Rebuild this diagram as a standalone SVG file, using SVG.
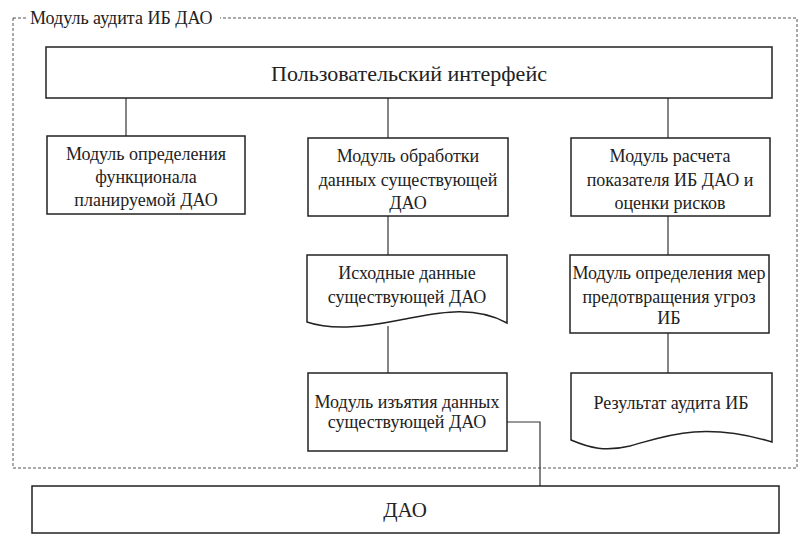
<svg xmlns="http://www.w3.org/2000/svg" width="804" height="545" viewBox="0 0 804 545">
<style>
.b{fill:#fff;stroke:#222;stroke-width:1.5}
.c{fill:none;stroke:#333;stroke-width:1.2}
</style>
<rect x="0" y="0" width="804" height="545" fill="#fff"/>
<g font-family="Liberation Serif, serif" font-size="18" fill="#222" text-anchor="middle">
<g id="frame">
<rect x="13" y="18" width="784" height="450" fill="none" stroke="#555" stroke-width="1" stroke-dasharray="3,2"/>
<rect x="26" y="6" width="194" height="24" fill="#fff"/>
<text x="30" y="24" text-anchor="start" font-size="18">Модуль аудита ИБ ДАО</text>
</g>
<g id="connectors">
<line class="c" x1="126" y1="98" x2="126" y2="136"/>
<line class="c" x1="388" y1="98" x2="388" y2="138"/>
<line class="c" x1="668" y1="98" x2="668" y2="138"/>
<line class="c" x1="388" y1="216" x2="388" y2="255"/>
<line class="c" x1="388" y1="326" x2="388" y2="373"/>
<line class="c" x1="668" y1="216" x2="668" y2="255"/>
<line class="c" x1="668" y1="333" x2="668" y2="373"/>
<polyline class="c" points="507,422 540,422 540,487"/>
</g>
<g id="ui">
<rect class="b" x="46" y="47" width="726" height="51"/>
<text x="409" y="81" font-size="22">Пользовательский интерфейс</text>
</g>
<g id="m1">
<rect class="b" x="47" y="136" width="198" height="78"/>
<text x="146" y="160">Модуль определения</text>
<text x="146" y="183">функционала</text>
<text x="146" y="206">планируемой  ДАО</text>
</g>
<g id="m2">
<rect class="b" x="308" y="138" width="200" height="78"/>
<text x="408" y="162">Модуль обработки</text>
<text x="408" y="186">данных существующей</text>
<text x="408" y="209">ДАО</text>
</g>
<g id="m3">
<rect class="b" x="571" y="138" width="199" height="78"/>
<text x="670" y="162">Модуль расчета</text>
<text x="670" y="186">показателя ИБ ДАО и</text>
<text x="670" y="209">оценки рисков</text>
</g>
<g id="d1">
<path class="b" d="M307,255 H507 V323 C470,303 430,315 400,320 C360,328 330,330 307,322 Z"/>
<text x="407" y="279">Исходные данные</text>
<text x="407" y="303">существующей ДАО</text>
</g>
<g id="m4">
<rect class="b" x="308" y="373" width="199" height="78"/>
<text x="407" y="408">Модуль изъятия данных</text>
<text x="407" y="428">существующей ДАО</text>
</g>
<g id="m5">
<rect class="b" x="570" y="255" width="199" height="78"/>
<text x="669" y="279">Модуль определения мер</text>
<text x="669" y="303">предотвращения угроз</text>
<text x="669" y="324">ИБ</text>
</g>
<g id="d2">
<path class="b" d="M571,373 H772 V442 C700,420 660,438 630,446 C605,452 590,448 571,440 Z"/>
<text x="671" y="409">Результат аудита ИБ</text>
</g>
<g id="dao">
<rect class="b" x="32" y="486" width="747" height="47"/>
<text x="405" y="517" font-size="21">ДАО</text>
</g>
</g>
</svg>
